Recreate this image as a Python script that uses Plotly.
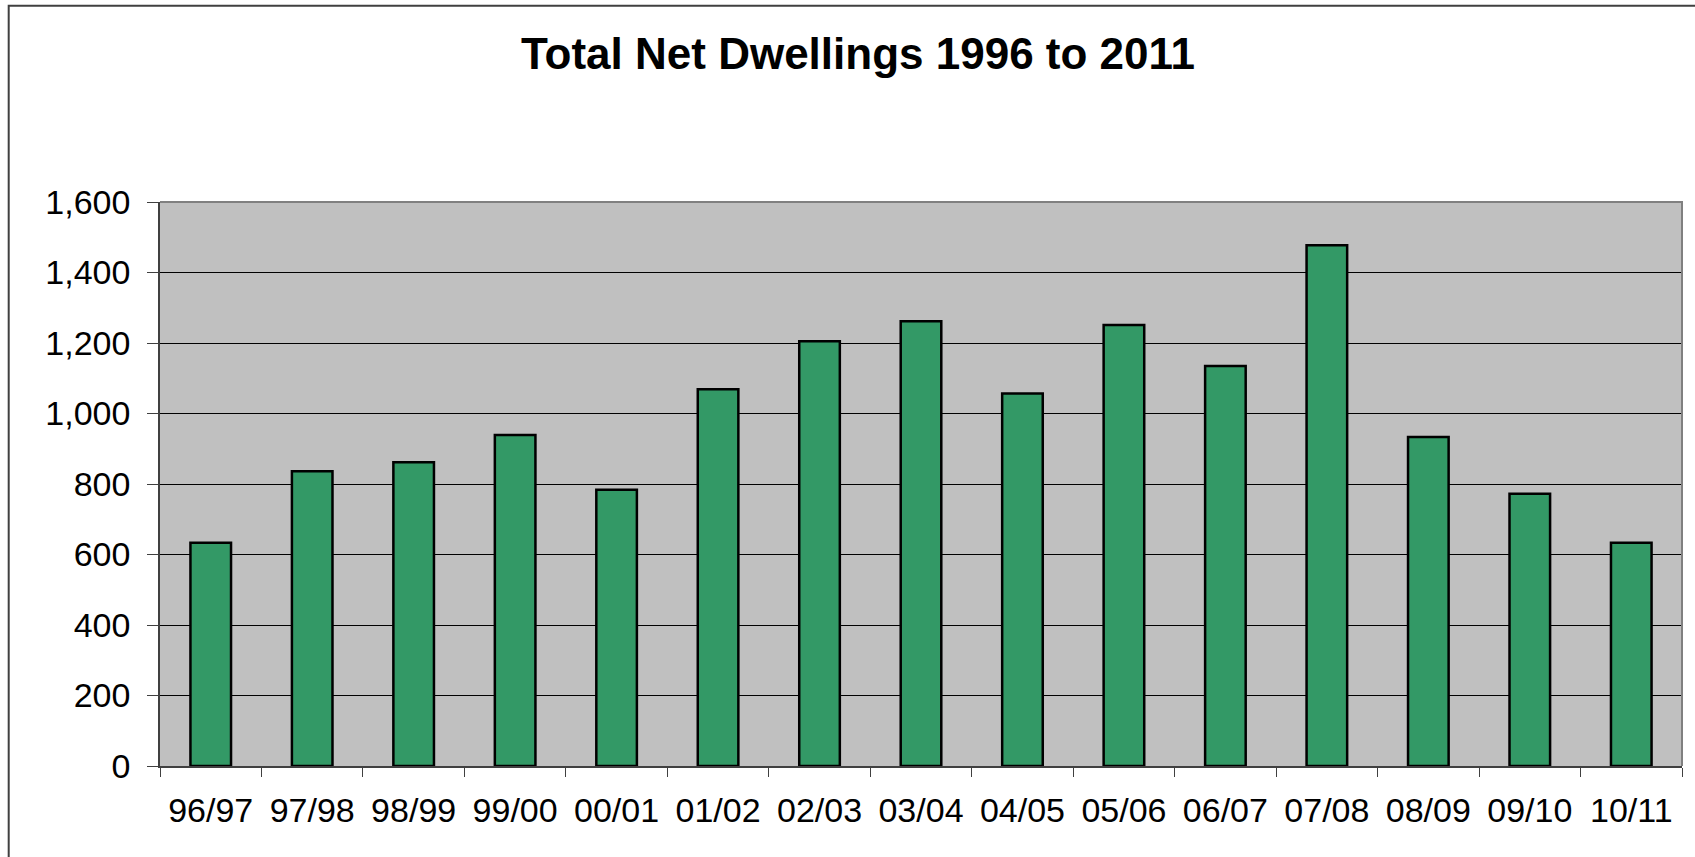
import plotly.graph_objects as go

categories = ["96/97", "97/98", "98/99", "99/00", "00/01", "01/02", "02/03", "03/04",
              "04/05", "05/06", "06/07", "07/08", "08/09", "09/10", "10/11"]
net_dwellings = [633, 836, 862, 939, 784, 1069, 1205, 1262, 1057, 1251, 1135, 1477, 933, 772, 633]
y_ticks = [0, 200, 400, 600, 800, 1000, 1200, 1400, 1600]
y_tick_text = ["0", "200", "400", "600", "800", "1,000", "1,200", "1,400", "1,600"]

W, H = 1695, 857
L, R, T, B = 160, 1682, 202, 766
pw, ph = R - L, B - T

def px_x(x):
    return (x - L) / pw

def px_y(y):
    return (B - y) / ph

fig = go.Figure()
fig.add_trace(go.Bar(
    x=categories, y=net_dwellings,
    marker=dict(color="#339966", line=dict(color="#000000", width=2.5)),
    width=0.4,
))

font_family = "Liberation Sans, Arial, sans-serif"

fig.update_layout(
    width=W, height=H,
    margin=dict(l=L, r=W - R, t=T, b=H - B, pad=0),
    paper_bgcolor="white",
    plot_bgcolor="#C0C0C0",
    showlegend=False,
    font=dict(family=font_family, color="black"),
    title=dict(
        text="<b>Total Net Dwellings 1996 to 2011</b>",
        x=858 / W, xanchor="center", xref="container",
        y=1 - 54 / H, yanchor="middle", yref="container",
        font=dict(size=44, family=font_family, color="black"),
    ),
    bargap=0.6,
)

fig.update_xaxes(
    type="category",
    showgrid=False,
    showline=True, linecolor="#404040", linewidth=1.5,
    ticks="outside", tickson="boundaries", ticklen=9, tickcolor="#404040", tickwidth=1,
    tickfont=dict(size=34, family=font_family, color="black"),
    ticklabelstandoff=13,
    range=[-0.5, 14.5],
)
fig.update_yaxes(
    range=[0, 1600],
    tickvals=y_ticks, ticktext=y_tick_text,
    showgrid=True, gridcolor="#000000", gridwidth=1,
    showline=True, linecolor="#404040", linewidth=1.5,
    ticks="outside", ticklen=11, tickcolor="#404040", tickwidth=1,
    tickfont=dict(size=34, family=font_family, color="black"),
    ticklabelstandoff=10,
    zeroline=False,
)

# gray top and right border of the plot area
fig.add_shape(
    type="path", xref="paper", yref="paper",
    path="M 0,1 L 1,1 L 1,0",
    line=dict(color="#808080", width=2), layer="above",
)
# outer chart border (partly cropped at right and bottom)
fig.add_shape(
    type="rect", xref="paper", yref="paper",
    x0=px_x(8.7), x1=px_x(1710), y0=px_y(880), y1=px_y(5.7),
    line=dict(color="#404040", width=2), fillcolor="rgba(0,0,0,0)", layer="above",
)

fig.write_html("out.html")
